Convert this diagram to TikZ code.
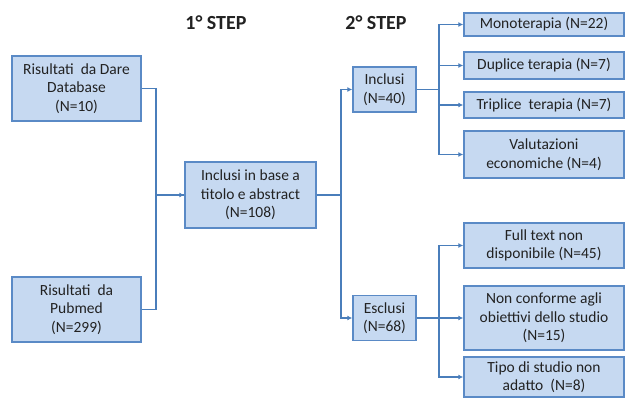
\documentclass[tikz,border=0pt]{standalone}
\usepackage{fontspec}
\setmainfont{Carlito}
\usetikzlibrary{arrows.meta}
\definecolor{boxfill}{HTML}{C6D9F1}
\definecolor{boxline}{HTML}{5A8AC6}
\definecolor{conn}{HTML}{4A7EBB}
\definecolor{txt}{HTML}{222222}
\tikzset{
  bx/.style={draw=boxline, line width=1.4pt, fill=boxfill, text=txt, align=center,
    inner sep=1pt, font=\fontsize{15.5}{18.5}\selectfont},
  ln/.style={draw=conn, line width=1.8pt},
  arr/.style={ln, -{Latex[length=5pt,width=5pt]}},
  ttl/.style={font=\fontsize{20}{22}\bfseries\selectfont, text=txt}
}
\begin{document}
\begin{tikzpicture}[x=1pt,y=-1pt]
\useasboundingbox (0,0) rectangle (627,398);
% titles
\node[ttl] (t1) at (216,23) {1° STEP};
\node[ttl] (t2) at (376,23) {2° STEP};
% boxes
\node[bx, minimum width=129pt, minimum height=65pt] (dare) at (76.5,88.5) {Risultati\ \ da Dare\\Database\\(N=10)};
\node[bx, minimum width=129pt, minimum height=65pt] (pub) at (76.5,309.5) {Risultati\ \ da\\Pubmed\\(N=299)};
\node[bx, minimum width=131pt, minimum height=66pt] (mid) at (250.5,195) {Inclusi in base a\\titolo e abstract\\(N=108)};
\node[bx, minimum width=63pt, minimum height=45pt] (incl) at (384.5,89.5) {Inclusi\\(N=40)};
\node[bx, minimum width=63pt, minimum height=45pt] (escl) at (384.5,318) {Esclusi\\(N=68)};
\node[bx, minimum width=160pt, minimum height=23pt] (mono) at (544,24.5) {Monoterapia (N=22)};
\node[bx, minimum width=160pt, minimum height=27pt] (dup) at (544,65.5) {Duplice terapia (N=7)};
\node[bx, minimum width=160pt, minimum height=26pt] (trip) at (544,105) {Triplice\ \ terapia (N=7)};
\node[bx, minimum width=160pt, minimum height=47pt] (val) at (544,154.5) {Valutazioni\\economiche (N=4)};
\node[bx, minimum width=160pt, minimum height=45pt] (full) at (544,245.5) {Full text non\\disponibile (N=45)};
\node[bx, minimum width=160pt, minimum height=64pt] (nonc) at (544,318) {Non conforme agli\\obiettivi dello studio\\(N=15)};
\node[bx, minimum width=160pt, minimum height=40pt] (tipo) at (544,377) {Tipo di studio non\\adatto\ \ (N=8)};
% connectors
\draw[ln] (dare.east) -- ++(14,0) |- (mid.west);
\draw[arr] (pub.east) -- ++(14,0) |- (mid.west);
\draw[arr] (mid.east) -- ++(24,0) |- (incl.west);
\draw[arr] (mid.east) -- ++(24,0) |- (escl.west);
\foreach \t in {mono,dup,trip,val}
  \draw[arr] (incl.east) -- ++(22,0) |- (\t.west);
\foreach \t in {full,nonc,tipo}
  \draw[arr] (escl.east) -- ++(22,0) |- (\t.west);
\end{tikzpicture}
\end{document}
